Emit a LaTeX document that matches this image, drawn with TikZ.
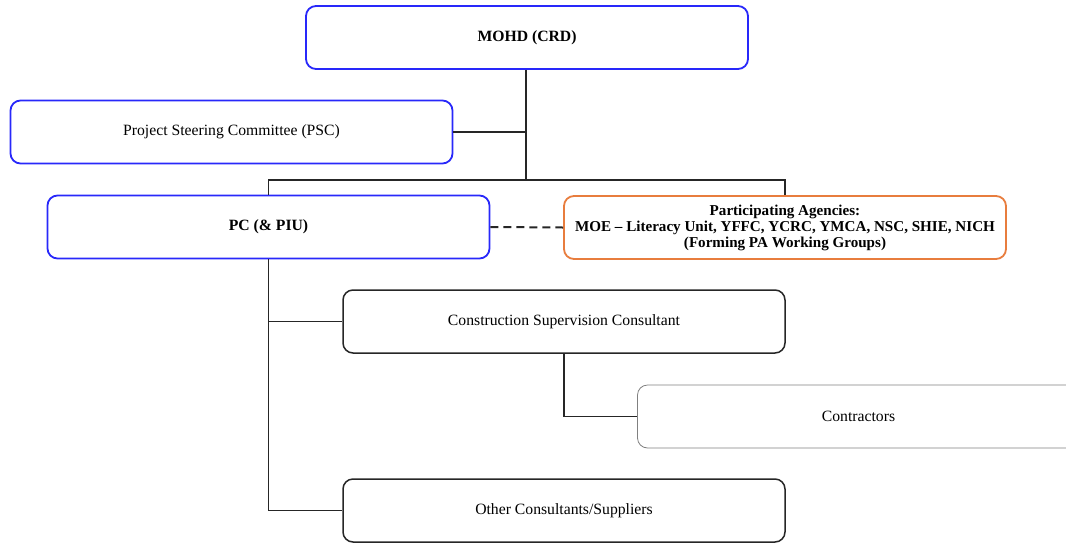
\documentclass[tikz,border=0pt]{standalone}
\usepackage{fontspec}
\setmainfont{Liberation Serif}
\usepackage{xcolor}
\definecolor{boxblue}{RGB}{40,40,250}
\definecolor{boxorange}{RGB}{232,125,62}
\begin{document}
\begin{tikzpicture}[x=1pt, y=-1pt,
	every node/.style={font=\fontsize{15.7}{16}\selectfont, align=center},
	orgbox/.style={draw, rounded corners=10pt, minimum width=442pt, minimum height=63pt, inner sep=0pt},
	bluebox/.style={orgbox, draw=boxblue, line width=1.8pt},
	orangebox/.style={orgbox, draw=boxorange, line width=1.8pt, font=\fontsize{15.1}{16}\selectfont\bfseries},
	blackbox/.style={orgbox, draw=black!85, line width=1.5pt},
	graybox/.style={orgbox, draw=gray, line width=0.8pt},
	link/.style={draw=black!85, line width=1.2pt}]
\useasboundingbox (0,0) rectangle (1066,542);
\node[bluebox] (mohd) at (527,37.5) {\textbf{MOHD (CRD)}};
\node[bluebox] (psc) at (231.5,132) {Project Steering Committee (PSC)};
\node[bluebox] (pc) at (268.5,227) {\textbf{PC (\& PIU)}};
\node[orangebox] (pa) at (785,227.5) {Participating Agencies:\\
	MOE – Literacy Unit, YFFC, YCRC, YMCA, NSC, SHIE, NICH\\
	(Forming PA Working Groups)};
\node[blackbox] (csc) at (564,321.5) {Construction Supervision Consultant};
\node[graybox] (con) at (858.5,416.5) {Contractors};
\node[blackbox] (other) at (564,510.5) {Other Consultants/Suppliers};
\coordinate (split) at (526,180);
% links
\draw[link] (mohd.south -| split) -- (split);
\draw[link] (psc.east) -- (psc.east -| split);
\draw[link] (pc.north) |- (split) -| (pa.north);
\draw[link, line width=2pt, dash pattern=on 8pt off 5pt] (pc.east) -- (pa.west);
\draw[link] (pc.south) |- (other.west);
\draw[link] (pc.south |- csc.west) -- (csc.west);
\draw[link] (csc.south) |- (con.west);
\end{tikzpicture}
\end{document}
